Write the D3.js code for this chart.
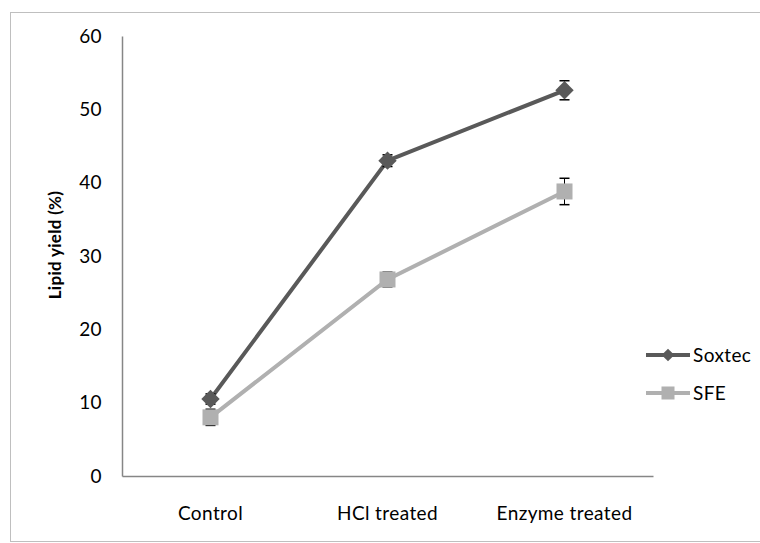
<!DOCTYPE html>
<html lang="en">
<head>
  <meta charset="utf-8">
  <title>Lipid yield</title>
  <script src="https://d3js.org/d3.v7.min.js"></script>
  <style>
    body { margin: 0; background: #fff; }
    text { font-family: Lato, "Open Sans", sans-serif; font-size: 19px; fill: #000; letter-spacing: 0.4px; }
    .ytitle { font-weight: bold; font-size: 17px; letter-spacing: 0.3px; }
  </style>
</head>
<body>
  <svg width="760" height="543"></svg>
  <script>
    var categories = ["Control", "HCl treated", "Enzyme treated"];
    var soxtec = [10.5, 43.0, 52.6];
    var soxtecErr = [0.7, 0.8, 1.3];
    var sfe = [8.0, 26.8, 38.8];
    var sfeErr = [1.1, 1.0, 1.8];
    var yTicks = [0, 10, 20, 30, 40, 50, 60];

    var series = [
      { name: "Soxtec", values: soxtec, err: soxtecErr, color: "#595959", diamond: true },
      { name: "SFE", values: sfe, err: sfeErr, color: "#b0b0b0", diamond: false }
    ];

    var svg = d3.select("svg");

    // outer chart frame
    svg.append("rect")
      .attr("x", 10.5).attr("y", 12.5)
      .attr("width", 800).attr("height", 529)
      .attr("fill", "none").attr("stroke", "#bfbfbf").attr("stroke-width", 1);

    var x = d3.scaleBand().domain(categories).range([122, 653]);
    var y = d3.scaleLinear().domain([0, 60]).range([476, 36]);

    // y axis
    var yAxis = svg.append("g")
      .attr("transform", "translate(122,0)")
      .call(d3.axisLeft(y).tickValues(yTicks).tickSize(0).tickPadding(20));
    yAxis.select(".domain").attr("stroke", "#868686").attr("stroke-width", 1.5);

    // x axis
    var xAxis = svg.append("g")
      .attr("transform", "translate(0,476)")
      .call(d3.axisBottom(x).tickSize(0).tickPadding(31));
    xAxis.select(".domain").attr("stroke", "#868686").attr("stroke-width", 1.5);
    svg.selectAll("g[font-family]").attr("font-family", null).attr("font-size", null);

    svg.append("text")
      .attr("class", "ytitle")
      .attr("transform", "translate(61,245) rotate(-90)")
      .attr("text-anchor", "middle")
      .text("Lipid yield (%)");

    var cx = function(i) { return x(categories[i]) + x.bandwidth() / 2; };

    var line = d3.line()
      .x(function(d, i) { return cx(i); })
      .y(function(d) { return y(d); });

    function marker(sel, s, side) {
      sel.append("rect")
        .attr("x", -side / 2).attr("y", -side / 2)
        .attr("width", side).attr("height", side)
        .attr("transform", s.diamond ? "rotate(45)" : null)
        .attr("fill", s.color);
    }

    series.forEach(function(s) {
      var g = svg.append("g");

      g.append("path")
        .datum(s.values)
        .attr("fill", "none")
        .attr("stroke", s.color)
        .attr("stroke-width", 4)
        .attr("d", line);

      // error bars
      var eb = g.selectAll(".err").data(s.values).enter().append("g");
      eb.append("line")
        .attr("x1", function(d, i) { return cx(i); })
        .attr("x2", function(d, i) { return cx(i); })
        .attr("y1", function(d, i) { return y(d + s.err[i]); })
        .attr("y2", function(d, i) { return y(d - s.err[i]); })
        .attr("stroke", "#000").attr("stroke-width", 1);
      [1, -1].forEach(function(sign) {
        eb.append("line")
          .attr("x1", function(d, i) { return cx(i) - 5; })
          .attr("x2", function(d, i) { return cx(i) + 5; })
          .attr("y1", function(d, i) { return y(d + sign * s.err[i]); })
          .attr("y2", function(d, i) { return y(d + sign * s.err[i]); })
          .attr("stroke", "#000").attr("stroke-width", 1.5);
      });

      g.selectAll(".mark").data(s.values).enter().append("g")
        .attr("transform", function(d, i) { return "translate(" + cx(i) + "," + y(d) + ")"; })
        .each(function() { marker(d3.select(this), s, s.diamond ? 13 : 16); });
    });

    // legend
    var legend = svg.append("g").attr("transform", "translate(646,355)");
    series.forEach(function(s, i) {
      var row = legend.append("g").attr("transform", "translate(0," + (i * 38) + ")");
      row.append("line")
        .attr("x1", 0).attr("x2", 44)
        .attr("stroke", s.color).attr("stroke-width", 4);
      marker(row.append("g").attr("transform", "translate(22,0)"), s, s.diamond ? 9 : 13);
      row.append("text")
        .attr("x", 47).attr("dy", "0.35em")
        .text(s.name);
    });
  </script>
</body>
</html>
